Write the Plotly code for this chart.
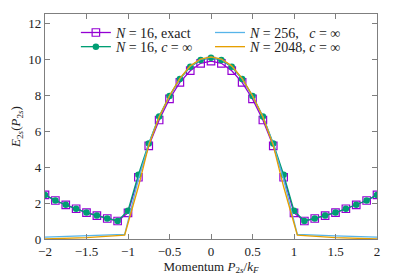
import plotly.graph_objects as go

# N = 16 momenta (P_2s / k_F)
x16 = [-2.0, -1.875, -1.75, -1.625, -1.5, -1.375, -1.25, -1.125, -1.0, -0.875, -0.75,
       -0.625, -0.5, -0.375, -0.25, -0.125, 0.0, 0.125, 0.25, 0.375, 0.5, 0.625,
       0.75, 0.875, 1.0, 1.125, 1.25, 1.375, 1.5, 1.625, 1.75, 1.875, 2.0]
y16_exact = [2.45, 2.14, 1.9, 1.68, 1.47, 1.3, 1.14, 1.0, 1.45, 3.43, 5.17,
             6.61, 7.78, 8.7, 9.35, 9.76, 9.88, 9.76, 9.35, 8.7, 7.78, 6.61,
             5.17, 3.43, 1.45, 1.0, 1.14, 1.3, 1.47, 1.68, 1.9, 2.14, 2.45]
y16_cinf = [2.45, 2.14, 1.9, 1.68, 1.47, 1.3, 1.14, 1.0, 1.57, 3.57, 5.31,
            6.8, 7.94, 8.89, 9.57, 9.94, 10.07, 9.94, 9.57, 8.89, 7.94, 6.8,
            5.31, 3.57, 1.57, 1.0, 1.14, 1.3, 1.47, 1.68, 1.9, 2.14, 2.45]

# large-N curves
xc = [-2.0, -1.5, -1.04, -0.875, -0.75, -0.625, -0.5, -0.375, -0.25, -0.125, 0.0,
      0.125, 0.25, 0.375, 0.5, 0.625, 0.75, 0.875, 1.04, 1.5, 2.0]
y256 = [0.1, 0.17, 0.26, 3.3, 5.28, 6.8, 7.95, 8.9, 9.6, 9.98, 10.1,
        9.98, 9.6, 8.9, 7.95, 6.8, 5.28, 3.3, 0.26, 0.17, 0.1]
y2048 = [0.0, 0.08, 0.22, 2.9, 5.2, 6.78, 7.96, 8.92, 9.62, 10.0, 10.12,
         10.0, 9.62, 8.92, 7.96, 6.78, 5.2, 2.9, 0.22, 0.08, 0.0]

xticks = [-2, -1.5, -1, -0.5, 0, 0.5, 1, 1.5, 2]
xticklabels = ["\u22122", "\u22121.5", "\u22121", "\u22120.5", "0", "0.5", "1", "1.5", "2"]
yticks = [0, 2, 4, 6, 8, 10, 12]

FONT = "Liberation Serif"
frame = "#7f7f7f"
TXT = "#222222"

fig = go.Figure()
fig.add_trace(go.Scatter(x=x16, y=y16_exact, mode="lines+markers",
                         name="<i>N</i> = 16, exact",
                         line=dict(color="#9400D3", width=1.3),
                         marker=dict(symbol="square-open", size=7.5, color="#9400D3",
                                     line=dict(width=1.2, color="#9400D3")),
                         legend="legend"))
fig.add_trace(go.Scatter(x=x16, y=y16_cinf, mode="lines+markers",
                         name="<i>N</i> = 16, <i>c</i> = \u221e",
                         line=dict(color="#009E73", width=1.3),
                         marker=dict(symbol="circle", size=6.5, color="#009E73"),
                         legend="legend2"))
fig.add_trace(go.Scatter(x=xc, y=y256, mode="lines",
                         name="<i>N</i> = 256,\u2002 <i>c</i> = \u221e",
                         line=dict(color="#56B4E9", width=1.3),
                         legend="legend3"))
fig.add_trace(go.Scatter(x=xc, y=y2048, mode="lines",
                         name="<i>N</i> = 2048, <i>c</i> = \u221e",
                         line=dict(color="#E69F00", width=1.3),
                         legend="legend4"))

axis_common = dict(showgrid=False, zeroline=False, showline=True, linecolor=frame,
                   linewidth=1.3, mirror="allticks", ticks="inside", ticklen=5,
                   tickcolor=frame, tickwidth=1, automargin=False,
                   tickfont=dict(family=FONT, size=13, color=TXT))

def leg(x, y):
    return dict(x=x, y=y, xanchor="left", yanchor="middle", bgcolor="rgba(0,0,0,0)",
                font=dict(family=FONT, size=14, color=TXT), tracegroupgap=0,
                itemwidth=30, borderwidth=0)

# page body has an 8px margin: figure is shrunk so the plot lands where intended
fig.update_layout(
    template="none",
    width=391, height=271,
    margin=dict(l=37, r=22, t=6, b=40, autoexpand=False),
    paper_bgcolor="white", plot_bgcolor="white",
    font=dict(family=FONT, size=13, color=TXT),
    xaxis=dict(range=[-2, 2], tickvals=xticks, ticktext=xticklabels,
               title=dict(text="Momentum <i>P</i><sub>2<i>s</i></sub>/<i>k</i><sub><i>F</i></sub>",
                          font=dict(family=FONT, size=13, color=TXT), standoff=1),
               **axis_common),
    yaxis=dict(range=[0, 12.5], tickvals=yticks,
               title=dict(text="<i>E</i><sub>2<i>s</i></sub>(<i>P</i><sub>2<i>s</i></sub>)",
                          font=dict(family=FONT, size=13, color=TXT), standoff=8),
               **axis_common),
    legend=leg(0.093, 0.916),
    legend2=leg(0.093, 0.853),
    legend3=leg(0.497, 0.916),
    legend4=leg(0.497, 0.853),
    showlegend=True,
)

fig.write_html("out.html")
